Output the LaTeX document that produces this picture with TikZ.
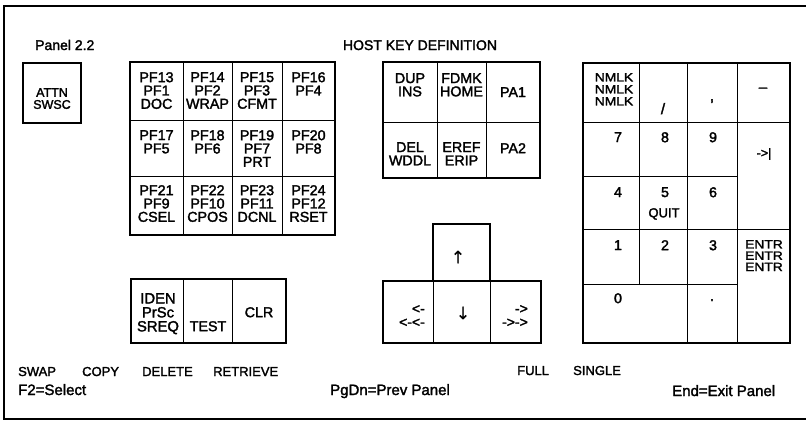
\documentclass[tikz,border=0pt]{standalone}
\usepackage{fontspec}
\setmainfont{Liberation Sans}[FakeBold=2]
\newfontfamily\widefont{Liberation Sans}[FakeBold=2,FakeStretch=1.15]
\newfontfamily\arrowfont{DejaVu Sans}[FakeBold=0.5]
\begin{document}
\begin{tikzpicture}[x=1pt,y=-1pt,
  thickbox/.style={line width=1.8pt},
  thinline/.style={line width=0.9pt},
  framepath/.style={line width=1.2pt},
  keyf/.style={inner sep=0pt, align=center, anchor=north, font=\fontsize{14.3}{13.3}\selectfont},
  smallkey/.style={keyf, font=\widefont\fontsize{12}{12}\selectfont},
  symb/.style={inner sep=0pt, anchor=base, font=\fontsize{15}{15}\selectfont},
  btxt/.style={inner sep=0pt, anchor=base west, font=\fontsize{13}{15}\selectfont},
  ltxt/.style={inner sep=0pt, anchor=base west, font=\fontsize{15}{15}\selectfont},
  arrtxt/.style={inner sep=0pt, align=right, anchor=north east, font=\fontsize{14}{13.5}\selectfont}]
\useasboundingbox (0,0) rectangle (806,421);
% outer frame (open on the right)
\draw[framepath] (806,6) -- (4,6) -- (4,419) -- (806,419);

% titles
\node[inner sep=0pt, anchor=base west, font=\fontsize{14}{14}\selectfont] (title) at (35,50) {Panel 2.2};
\node[inner sep=0pt, anchor=base, font=\fontsize{14}{14}\selectfont] (hkd) at (420,50) {HOST KEY DEFINITION};

% ATTN key
\draw[thickbox] (23,63) rectangle (81,123);
\node[keyf, font=\fontsize{12.5}{12}\selectfont] (attn) at (52,88) {ATTN\\SWSC};

% PF grid
\draw[thinline] (183,62) -- (183,235) (232,62) -- (232,235) (282,62) -- (282,235)
  (130,120) -- (335,120) (130,176) -- (335,176);
\draw[thickbox] (130,62) rectangle (335,235);
\node[keyf] (pf13) at (156.5,72) {PF13\\PF1\\DOC};
\node[keyf] (pf14) at (207.5,72) {PF14\\PF2\\WRAP};
\node[keyf] (pf15) at (257,72) {PF15\\PF3\\CFMT};
\node[keyf] (pf16) at (308.5,72) {PF16\\PF4};
\node[keyf] (pf17) at (156.5,130) {PF17\\PF5};
\node[keyf] (pf18) at (207.5,130) {PF18\\PF6};
\node[keyf] (pf19) at (257,130) {PF19\\PF7\\PRT};
\node[keyf] (pf20) at (308.5,130) {PF20\\PF8};
\node[keyf] (pf21) at (156.5,185) {PF21\\PF9\\CSEL};
\node[keyf] (pf22) at (207.5,185) {PF22\\PF10\\CPOS};
\node[keyf] (pf23) at (257,185) {PF23\\PF11\\DCNL};
\node[keyf] (pf24) at (308.5,185) {PF24\\PF12\\RSET};

% editing keys
\draw[thinline] (437,62) -- (437,178) (486,62) -- (486,178) (383,122) -- (540,122);
\draw[thickbox] (383,62) rectangle (540,178);
\node[keyf] (dup) at (410,73) {DUP\\INS};
\node[keyf] (fdmk) at (461.5,73) {FDMK\\HOME};
\node[keyf] (pa1) at (513,87) {PA1};
\node[keyf] (del) at (410,142) {DEL\\WDDL};
\node[keyf] (eref) at (461.5,142) {EREF\\ERIP};
\node[keyf] (pa2) at (513,143) {PA2};

% numeric pad
\draw[thinline] (583,122) -- (790,122) (583,176) -- (737,176) (583,229) -- (790,229)
  (583,284) -- (737,284) (639,63) -- (639,284) (687,63) -- (687,343) (737,63) -- (737,343);
\draw[thickbox] (583,63) rectangle (790,343);
\node[smallkey] (nmlk) at (614,73) {NMLK\\NMLK\\NMLK};
\node[symb] (slash) at (663,114) {/};
\node[symb] (comma) at (712,101) {,};
\node[symb] (minus) at (763,92) {–};
\node[keyf] (k7) at (618,132) {7};
\node[keyf] (k8) at (665,132) {8};
\node[keyf] (k9) at (713,132) {9};
\node[inner sep=0pt, font=\fontsize{12.5}{12}\selectfont] (tab) at (764,154) {-{}>|};
\node[keyf] (k4) at (618,187) {4};
\node[keyf] (k5) at (665,187) {5};
\node[keyf, font=\fontsize{13}{12}\selectfont] (quit) at (664,208) {QUIT};
\node[keyf] (k6) at (713,187) {6};
\node[keyf] (k1) at (618,240) {1};
\node[keyf] (k2) at (665,240) {2};
\node[keyf] (k3) at (713,240) {3};
\node[smallkey, font=\widefont\fontsize{12}{11.3}\selectfont] (entr) at (764,240) {ENTR\\ENTR\\ENTR};
\node[keyf] (k0) at (618,293) {0};
\node[symb] (dot) at (712,301) {.};

% lower left keys
\draw[thinline] (183,279) -- (183,343) (232,279) -- (232,343);
\draw[thickbox] (131,279) rectangle (286,343);
\node[keyf, font=\fontsize{14.8}{14}\selectfont] (iden) at (158,293) {IDEN\\PrSc\\SREQ};
\node[keyf] (test) at (208,321) {TEST};
\node[keyf] (clr) at (259,307) {CLR};

% cursor keys
\draw[thinline] (433,281) -- (433,343) (490,281) -- (490,343);
\draw[thickbox] (433,281) -- (433,224) -- (490,224) -- (490,281);
\draw[thickbox] (383,281) rectangle (541,343);
\node[inner sep=0pt, font=\arrowfont\fontsize{17}{17}\selectfont] (up) at (458,257) {↑};
\node[inner sep=0pt, font=\arrowfont\fontsize{17}{17}\selectfont] (down) at (463,313) {↓};
\node[arrtxt] (left) at (425,305) {<-\\<-<-};
\node[arrtxt] (right) at (528,305) {-{}>\\-{}>-{}>};

% bottom texts
\node[btxt] (swap) at (18,376) {SWAP};
\node[btxt] (copy) at (82,376) {COPY};
\node[btxt] (delete) at (142,376) {DELETE};
\node[btxt] (retrieve) at (213,376) {RETRIEVE};
\node[btxt] (full) at (517,375) {FULL};
\node[btxt] (single) at (573,375) {SINGLE};
\node[ltxt] (f2) at (18,395) {F2=Select};
\node[ltxt] (pgdn) at (330,395) {PgDn=Prev Panel};
\node[ltxt] (endx) at (672,396) {End=Exit Panel};
\end{tikzpicture}
\end{document}
